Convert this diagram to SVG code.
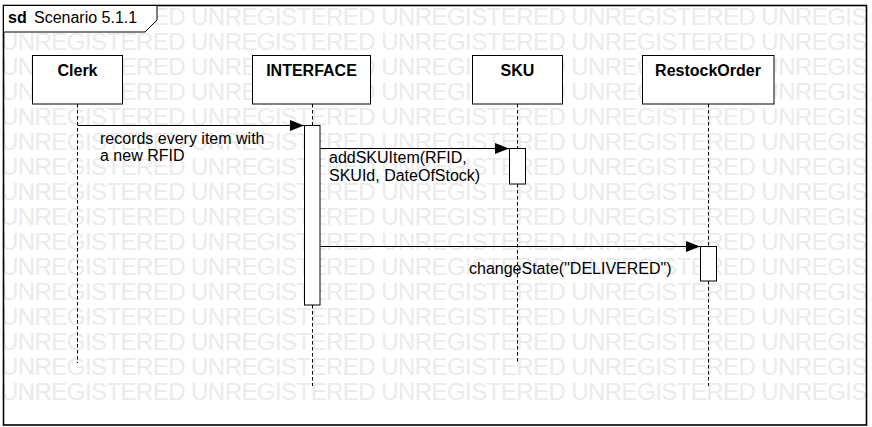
<svg xmlns="http://www.w3.org/2000/svg" width="872" height="427" viewBox="0 0 872 427">
<style>
.wm{font-family:"Liberation Sans",Arial,sans-serif;font-size:24px;fill:#ebebeb}
.box{fill:#fff;stroke:#000;stroke-width:1}
.hd{font-family:"Liberation Sans",Arial,sans-serif;font-size:16px;font-weight:bold;fill:#000;text-anchor:middle}
.t{font-family:"Liberation Sans",Arial,sans-serif;font-size:16px;fill:#000}
.life{stroke:#000;stroke-width:1;stroke-dasharray:3.5 2.5;fill:none}
.act{fill:#fff;stroke:#000;stroke-width:1}
.msg{stroke:#000;stroke-width:1;fill:none}
</style>
<defs>
<marker id="ah" markerWidth="14" markerHeight="12" refX="14" refY="6" orient="auto" markerUnits="userSpaceOnUse">
<path d="M0,0.5 L14,6 L0,11.5 Z" fill="#000"/>
</marker>
<clipPath id="clip"><rect x="0" y="0" width="866" height="427"/></clipPath>
</defs>
<rect x="0" y="0" width="872" height="427" fill="#fff"/>
<g id="watermark" clip-path="url(#clip)">
<text class="wm" x="1" y="25" textLength="1135">UNREGISTERED UNREGISTERED UNREGISTERED UNREGISTERED UNREGISTERED UNREGISTERED</text>
<text class="wm" x="1" y="50" textLength="1135">UNREGISTERED UNREGISTERED UNREGISTERED UNREGISTERED UNREGISTERED UNREGISTERED</text>
<text class="wm" x="1" y="75" textLength="1135">UNREGISTERED UNREGISTERED UNREGISTERED UNREGISTERED UNREGISTERED UNREGISTERED</text>
<text class="wm" x="1" y="100" textLength="1135">UNREGISTERED UNREGISTERED UNREGISTERED UNREGISTERED UNREGISTERED UNREGISTERED</text>
<text class="wm" x="1" y="125" textLength="1135">UNREGISTERED UNREGISTERED UNREGISTERED UNREGISTERED UNREGISTERED UNREGISTERED</text>
<text class="wm" x="1" y="150" textLength="1135">UNREGISTERED UNREGISTERED UNREGISTERED UNREGISTERED UNREGISTERED UNREGISTERED</text>
<text class="wm" x="1" y="175" textLength="1135">UNREGISTERED UNREGISTERED UNREGISTERED UNREGISTERED UNREGISTERED UNREGISTERED</text>
<text class="wm" x="1" y="200" textLength="1135">UNREGISTERED UNREGISTERED UNREGISTERED UNREGISTERED UNREGISTERED UNREGISTERED</text>
<text class="wm" x="1" y="225" textLength="1135">UNREGISTERED UNREGISTERED UNREGISTERED UNREGISTERED UNREGISTERED UNREGISTERED</text>
<text class="wm" x="1" y="250" textLength="1135">UNREGISTERED UNREGISTERED UNREGISTERED UNREGISTERED UNREGISTERED UNREGISTERED</text>
<text class="wm" x="1" y="275" textLength="1135">UNREGISTERED UNREGISTERED UNREGISTERED UNREGISTERED UNREGISTERED UNREGISTERED</text>
<text class="wm" x="1" y="300" textLength="1135">UNREGISTERED UNREGISTERED UNREGISTERED UNREGISTERED UNREGISTERED UNREGISTERED</text>
<text class="wm" x="1" y="325" textLength="1135">UNREGISTERED UNREGISTERED UNREGISTERED UNREGISTERED UNREGISTERED UNREGISTERED</text>
<text class="wm" x="1" y="350" textLength="1135">UNREGISTERED UNREGISTERED UNREGISTERED UNREGISTERED UNREGISTERED UNREGISTERED</text>
<text class="wm" x="1" y="375" textLength="1135">UNREGISTERED UNREGISTERED UNREGISTERED UNREGISTERED UNREGISTERED UNREGISTERED</text>
<text class="wm" x="1" y="400" textLength="1135">UNREGISTERED UNREGISTERED UNREGISTERED UNREGISTERED UNREGISTERED UNREGISTERED</text>
</g>
<g id="frame">
<rect x="3.5" y="5.5" width="863" height="419.5" fill="none" stroke="#000" stroke-width="1.6"/>
<path d="M3.5,5.5 H157 V20 L145,32 H3.5 Z" fill="#fff" stroke="#000" stroke-width="1"/>
<text class="t" x="8" y="23" font-weight="bold">sd</text>
<text class="t" x="34" y="23">Scenario 5.1.1</text>
</g>
<g id="connectors">
<line class="life" x1="77.5" y1="104" x2="77.5" y2="363"/>
<line class="life" x1="312.5" y1="104" x2="312.5" y2="125"/>
<line class="life" x1="312.5" y1="305" x2="312.5" y2="386"/>
<line class="life" x1="517.5" y1="104" x2="517.5" y2="148"/>
<line class="life" x1="517.5" y1="184" x2="517.5" y2="363"/>
<line class="life" x1="708.5" y1="104" x2="708.5" y2="246"/>
<line class="life" x1="708.5" y1="281" x2="708.5" y2="386"/>
<line class="msg" x1="78" y1="125.5" x2="304" y2="125.5" marker-end="url(#ah)"/>
<line class="msg" x1="320" y1="148.5" x2="509" y2="148.5" marker-end="url(#ah)"/>
<line class="msg" x1="320" y1="246.5" x2="700" y2="246.5" marker-end="url(#ah)"/>
<text class="t" x="100" y="144">records every item with</text>
<text class="t" x="100" y="161">a new RFID</text>
<text class="t" x="329" y="163">addSKUItem(RFID,</text>
<text class="t" x="329" y="181">SKUId, DateOfStock)</text>
<text class="t" x="469" y="274">changeState("DELIVERED")</text>
</g>
<g id="clerk">
<rect class="box" x="32.5" y="55.5" width="90" height="48.5"/>
<text class="hd" x="77.5" y="76">Clerk</text>
</g>
<g id="interface">
<rect class="box" x="252.5" y="55.5" width="118" height="48.5"/>
<text class="hd" x="311.5" y="76">INTERFACE</text>
<rect class="act" x="304.5" y="125.5" width="15.5" height="179.5"/>
</g>
<g id="sku">
<rect class="box" x="472.5" y="55.5" width="90" height="48.5"/>
<text class="hd" x="517.5" y="76">SKU</text>
<rect class="act" x="509.5" y="148.5" width="16" height="35.5"/>
</g>
<g id="restockorder">
<rect class="box" x="642.5" y="55.5" width="131.5" height="48.5"/>
<text class="hd" x="708" y="76">RestockOrder</text>
<rect class="act" x="700.5" y="246.5" width="16" height="34.5"/>
</g>
</svg>
